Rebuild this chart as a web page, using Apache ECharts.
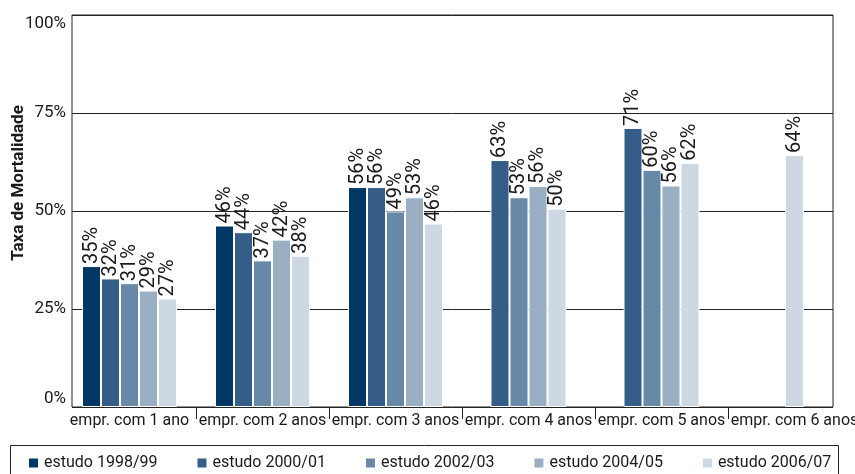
<!DOCTYPE html>
<html>
<head>
<meta charset="utf-8">
<script src="https://cdn.jsdelivr.net/npm/echarts@6/dist/echarts.min.js"></script>
<style>
html,body{margin:0;padding:0;background:#fff;}
#chart{width:855px;height:474px;}
</style>
</head>
<body>
<div id="chart"></div>
<script>
const categories = ['empr. com 1 ano','empr. com 2 anos','empr. com 3 anos','empr. com 4 anos','empr. com 5 anos','empr. com 6 anos'];
const seriesNames = ['estudo 1998/99','estudo 2000/01','estudo 2002/03','estudo 2004/05','estudo 2006/07'];
const estudo1998 = [35.95, 46.3, 56.1, null, null, null];
const estudo2000 = [32.8, 44.6, 56.1, 63.0, 71.2, null];
const estudo2002 = [31.6, 37.4, 49.9, 53.5, 60.5, null];
const estudo2004 = [29.7, 42.7, 53.5, 56.4, 56.5, null];
const estudo2006 = [27.7, 38.6, 46.8, 50.6, 62.3, 64.3];
const yTickValues = [0, 25, 50, 75, 100];
const colors = ['#003764','#345e87','#6788a6','#9aafc4','#cdd8e2'];

const allSeries = [estudo1998, estudo2000, estudo2002, estudo2004, estudo2006];
const FONT = 'Roboto';
const TXT = '#1a1a1a';

// group categories by which series have data (bars are laid out per group)
const groups = [];
categories.forEach((c, ci) => {
  const key = allSeries.map(s => s[ci] == null ? '0' : '1').join('');
  let g = groups.find(x => x.key === key);
  if (!g) { g = {key, cats: []}; groups.push(g); }
  g.cats.push(ci);
});

const grids = [{left:72, right:22, top:15, bottom:67, containLabel:false, outerBoundsMode:'none',
  show:true, borderColor:'#222', borderWidth:1, backgroundColor:'transparent'}];
const xAxes = [{type:'value', gridIndex:0, min:0, max:1, show:false}];
const yAxes = [{
  type:'value', gridIndex:0, min:yTickValues[0], max:yTickValues[yTickValues.length-1], interval:25,
  name:'Taxa de Mortalidade', nameLocation:'middle', nameGap:45, nameRotate:90, nameMoveOverlap:false,
  nameTextStyle:{fontFamily:FONT, fontSize:17, fontWeight:'bold', color:TXT, padding:[0,0,0,56]},
  axisLine:{show:false}, axisTick:{show:false},
  axisLabel:{formatter:'{value}%', fontFamily:FONT, fontSize:17, color:TXT, margin:6,
    verticalAlignMinLabel:'bottom', verticalAlignMaxLabel:'top'},
  splitLine:{show:true, lineStyle:{color:'#222', width:1}}
}];
const series = [];

groups.forEach((g, gi) => {
  const gIdx = gi + 1;
  grids.push({left:63, width:798, top:15, bottom:67, containLabel:false, outerBoundsMode:'none'});
  xAxes.push({
    type:'category', gridIndex:gIdx, data:categories, show: gi === 0,
    axisLine:{show:false},
    axisTick:{show:true, length:12, lineStyle:{color:'#222', width:1}, interval:(i) => i !== 0},
    axisLabel:{fontFamily:FONT, fontSize:16, color:TXT, margin:6, interval:0}
  });
  yAxes.push({type:'value', gridIndex:gIdx, min:0, max:100, show:false});
  allSeries.forEach((s, si) => {
    if (!g.cats.some(ci => s[ci] != null)) return;
    series.push({
      name: seriesNames[si], type:'bar', xAxisIndex:gIdx, yAxisIndex:gIdx,
      data: s.map((v, ci) => g.cats.includes(ci) ? v : null),
      barWidth:19, barGap:'0%',
      itemStyle:{color:colors[si], borderColor:'#fff', borderWidth:1},
      label:{show:true, position:'top', rotate:90, align:'left', verticalAlign:'middle', distance:2,
        fontFamily:FONT, fontSize:20, color:TXT,
        formatter:(p) => Math.floor(p.value) + '%'}
    });
  });
});

const chart = echarts.init(document.getElementById('chart'), null, {renderer:'canvas'});
chart.setOption({
  animation:false,
  color: colors,
  grid: grids,
  xAxis: xAxes,
  yAxis: yAxes,
  legend:{
    data: seriesNames, left:27, top:455, icon:'rect', itemWidth:11, itemHeight:11, itemGap:38,
    textStyle:{fontFamily:FONT, fontSize:16, color:TXT}, padding:0
  },
  graphic:[{type:'rect', shape:{x:10.5, y:445.5, width:828, height:40}, style:{fill:'none', stroke:'#222', lineWidth:1}, silent:true}],
  series: series
});
</script>
</body>
</html>
